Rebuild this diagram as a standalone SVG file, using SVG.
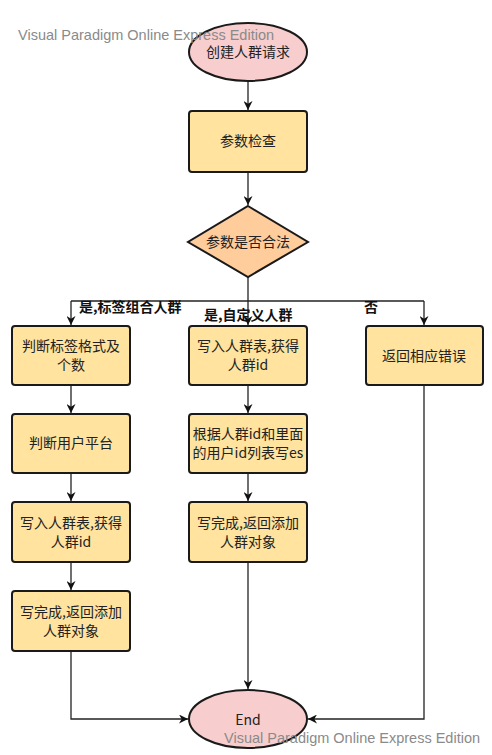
<svg xmlns="http://www.w3.org/2000/svg" width="492" height="755" viewBox="0 0 492 755">
<style>
.box{fill:#FFE39E;stroke:#1a1a1a;stroke-width:2}
.ell{fill:#F8CDCD;stroke:#1a1a1a;stroke-width:2}
.dia{fill:#FFCC9C;stroke:#1a1a1a;stroke-width:2}
.t{font-family:"Noto Sans CJK SC","Liberation Sans",sans-serif;font-size:14px;fill:#222;text-anchor:middle}
.lbl{font-family:"Noto Sans CJK SC","Liberation Sans",sans-serif;font-size:14px;font-weight:bold;fill:#111}
.wm{font-family:"Liberation Sans",Arial,sans-serif;font-size:14.5px;fill:#8a8a8a}
.c{fill:none;stroke:#222;stroke-width:1.3}
</style>
<defs>
<marker id="ah" viewBox="0 0 10 10" refX="10" refY="5" markerWidth="9" markerHeight="9" markerUnits="userSpaceOnUse" orient="auto">
<path d="M0,0 L10,5 L0,10 L3,5 z" fill="#111"/>
</marker>
</defs>
<rect width="492" height="755" fill="#fff"/>
<g id="connectors">
<path class="c" d="M248,82 V110" marker-end="url(#ah)"/>
<path class="c" d="M248,172 V205" marker-end="url(#ah)"/>
<path class="c" d="M248,277 V325" marker-end="url(#ah)"/>
<path class="c" d="M71,301 H424"/>
<path class="c" d="M71,301 V325" marker-end="url(#ah)"/>
<path class="c" d="M424,301 V325" marker-end="url(#ah)"/>
<path class="c" d="M71,386 V413" marker-end="url(#ah)"/>
<path class="c" d="M71,474 V501" marker-end="url(#ah)"/>
<path class="c" d="M71,563 V590" marker-end="url(#ah)"/>
<path class="c" d="M248,386 V413" marker-end="url(#ah)"/>
<path class="c" d="M248,474 V501" marker-end="url(#ah)"/>
<path class="c" d="M248,563 V689" marker-end="url(#ah)"/>
<path class="c" d="M71,652 V719 H188" marker-end="url(#ah)"/>
<path class="c" d="M424,386 V719 H308" marker-end="url(#ah)"/>
<text class="lbl" x="79" y="312">是,标签组合人群</text>
<text class="lbl" x="204" y="320">是,自定义人群</text>
<text class="lbl" x="364" y="312">否</text>
</g>
<g id="start">
<ellipse class="ell" cx="248" cy="52" rx="59" ry="29"/>
<text class="t" x="248" y="57">创建人群请求</text>
</g>
<g id="check">
<rect class="box" x="189" y="111" width="118" height="61" rx="3"/>
<text class="t" x="248" y="146">参数检查</text>
</g>
<g id="valid">
<polygon class="dia" points="248,206 308,242 248,277 188,242"/>
<text class="t" x="248" y="247">参数是否合法</text>
</g>
<g id="l1">
<rect class="box" x="12" y="326" width="118" height="59" rx="3"/>
<text class="t" x="71" y="351">判断标签格式及</text>
<text class="t" x="71" y="370">个数</text>
</g>
<g id="l2">
<rect class="box" x="12" y="414" width="118" height="59" rx="3"/>
<text class="t" x="71" y="448">判断用户平台</text>
</g>
<g id="l3">
<rect class="box" x="12" y="502" width="118" height="60" rx="3"/>
<text class="t" x="71" y="528">写入人群表,获得</text>
<text class="t" x="71" y="547">人群id</text>
</g>
<g id="l4">
<rect class="box" x="12" y="591" width="118" height="60" rx="3"/>
<text class="t" x="71" y="617">写完成,返回添加</text>
<text class="t" x="71" y="636">人群对象</text>
</g>
<g id="m1">
<rect class="box" x="189" y="326" width="118" height="59" rx="3"/>
<text class="t" x="248" y="351">写入人群表,获得</text>
<text class="t" x="248" y="370">人群id</text>
</g>
<g id="m2">
<rect class="box" x="189" y="414" width="118" height="59" rx="3"/>
<text class="t" x="248" y="439">根据人群id和里面</text>
<text class="t" x="248" y="458">的用户id列表写es</text>
</g>
<g id="m3">
<rect class="box" x="189" y="502" width="118" height="60" rx="3"/>
<text class="t" x="248" y="528">写完成,返回添加</text>
<text class="t" x="248" y="547">人群对象</text>
</g>
<g id="err">
<rect class="box" x="366" y="326" width="117" height="59" rx="3"/>
<text class="t" x="424" y="361">返回相应错误</text>
</g>
<g id="end">
<ellipse class="ell" cx="248" cy="719" rx="59" ry="29"/>
<text class="t" x="248" y="725">End</text>
</g>
<g id="watermarks">
<text class="wm" x="18" y="40">Visual Paradigm Online Express Edition</text>
<text class="wm" x="224" y="743">Visual Paradigm Online Express Edition</text>
</g>
</svg>
